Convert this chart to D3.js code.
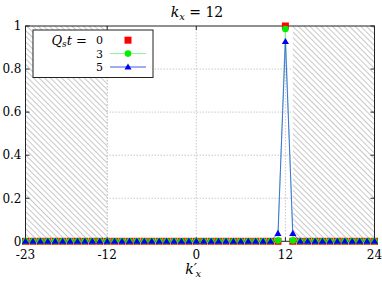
<!DOCTYPE html>
<html><head><meta charset="utf-8">
<script src="https://cdn.jsdelivr.net/npm/d3@7/dist/d3.min.js"></script>
<style>body{margin:0;background:#fff}svg{display:block}</style>
</head><body><svg id="c" width="382" height="283"></svg>
<script>
const kx = d3.range(-23, 25);
const series0 = kx.map(k => k === 12 ? 1 : 0);
const series3 = kx.map(k => k === 12 ? 0.986 : (k === 11 || k === 13) ? 0.004 : 0);
const series5 = kx.map(k => k === 12 ? 0.928 : (k === 11 || k === 13) ? 0.037 : 0);
const xTicks = [-23, -12, 0, 12, 24];
const yTicks = [0, 0.2, 0.4, 0.6, 0.8, 1];
const hatchRanges = [[-23, -12], [13, 24]];
const legendLabels = ["0", "3", "5"];

const FF = "DejaVu Serif";
const svg = d3.select("#c");
const L = 25.5, R = 374.5, T = 26, B = 241.3;
const x = d3.scaleLinear().domain([-23, 24]).range([L, R]);
const y = d3.scaleLinear().domain([0, 1]).range([B, T]);

const defs = svg.append("defs");
const pat = defs.append("pattern").attr("id","hatch").attr("patternUnits","userSpaceOnUse")
  .attr("width",4).attr("height",4).attr("patternTransform","rotate(-45)");
pat.append("line").attr("x1",0).attr("y1",-2).attr("x2",0).attr("y2",6).attr("stroke","#999").attr("stroke-width",1.1);

const grid = svg.append("g").attr("stroke","#bbb").attr("stroke-width",0.8).attr("stroke-dasharray","1.5,1.5");
[0.2,0.4,0.6,0.8].forEach(v => grid.append("line").attr("x1",L).attr("x2",R).attr("y1",y(v)).attr("y2",y(v)));
[-12,0,12].forEach(v => grid.append("line").attr("x1",x(v)).attr("x2",x(v)).attr("y1",T).attr("y2",B));

hatchRanges.forEach(([a,b]) => {
  svg.append("rect").attr("x",x(a)).attr("y",T).attr("width",x(b)-x(a)).attr("height",B-T).attr("fill","#fff");
  svg.append("rect").attr("x",x(a)).attr("y",T).attr("width",x(b)-x(a)).attr("height",B-T).attr("fill","url(#hatch)");
});
svg.append("line").attr("x1",x(-12)).attr("x2",x(-12)).attr("y1",T).attr("y2",B).attr("stroke","#bbb").attr("stroke-width",0.8).attr("stroke-dasharray","1.5,1.5");

svg.append("rect").attr("x",L).attr("y",T).attr("width",R-L).attr("height",B-T).attr("fill","none").attr("stroke","#222").attr("stroke-width",1);

const tk = svg.append("g").attr("stroke","#222").attr("stroke-width",1);
yTicks.forEach(v => {
  tk.append("line").attr("x1",L).attr("x2",L+4).attr("y1",y(v)).attr("y2",y(v));
  tk.append("line").attr("x1",R).attr("x2",R-4).attr("y1",y(v)).attr("y2",y(v));
});
xTicks.forEach(v => {
  tk.append("line").attr("x1",x(v)).attr("x2",x(v)).attr("y1",T).attr("y2",T+4);
  tk.append("line").attr("x1",x(v)).attr("x2",x(v)).attr("y1",B).attr("y2",B-4);
});

svg.append("g").selectAll("text").data(yTicks).join("text").style("font-family",FF)
  .attr("x",L-4).attr("y",d=>y(d)+4.3).attr("text-anchor","end").attr("font-size",12)
  .text(d=>d===0||d===1?String(d):d.toFixed(1));
svg.append("g").selectAll("text").data(xTicks).join("text").style("font-family",FF)
  .attr("x",d=>x(d)).attr("y",259).attr("text-anchor","middle").attr("font-size",12)
  .text(d=>String(d));

const line = d3.line().x((d,i)=>x(kx[i])).y(d=>y(d));
svg.append("path").datum(series3).attr("d",line).attr("fill","none").attr("stroke","#90f090").attr("stroke-width",1);
svg.append("path").datum(series5).attr("d",line).attr("fill","none").attr("stroke","#3a5cf0").attr("stroke-width",0.9);

const sq = 7;
svg.append("g").selectAll("rect").data(series0).join("rect")
  .attr("x",(d,i)=>x(kx[i])-sq/2).attr("y",d=>y(d)-sq/2).attr("width",sq).attr("height",sq).attr("fill","#ff0000");
svg.append("g").selectAll("circle").data(series3).join("circle")
  .attr("cx",(d,i)=>x(kx[i])).attr("cy",d=>y(d)).attr("r",3.3).attr("fill","#00ee00");
const tri = d3.symbol().type(d3.symbolTriangle).size(22);
svg.append("g").selectAll("path").data(series5).join("path")
  .attr("transform",(d,i)=>`translate(${x(kx[i])},${y(d)+0.5})`).attr("d",tri).attr("fill","#0000ee");

const lg = svg.append("g");
lg.append("rect").attr("x",33).attr("y",30).attr("width",120).attr("height",47.5).attr("fill","#fff").attr("stroke","#222").attr("stroke-width",1);
const rows = [40.2, 53.6, 67];
const lt = lg.append("text").attr("x",87).attr("y",rows[0]+4.5).attr("text-anchor","end").attr("font-size",13).style("font-family",FF);
lt.append("tspan").attr("font-style","italic").text("Q");
lt.append("tspan").attr("font-style","italic").attr("font-size",9).attr("dy",2.5).text("s");
lt.append("tspan").attr("font-style","italic").attr("dy",-2.5).text("t");
lt.append("tspan").text(" =");
legendLabels.forEach((t,i)=>lg.append("text").style("font-family",FF).attr("x",103).attr("y",rows[i]+4.2).attr("text-anchor","end").attr("font-size",11).text(t));
lg.append("rect").attr("x",128-sq/2).attr("y",rows[0]-sq/2).attr("width",sq).attr("height",sq).attr("fill","#ff0000");
lg.append("line").attr("x1",110).attr("x2",146).attr("y1",rows[1]).attr("y2",rows[1]).attr("stroke","#90f090");
lg.append("circle").attr("cx",128).attr("cy",rows[1]).attr("r",3.3).attr("fill","#00ee00");
lg.append("line").attr("x1",110).attr("x2",146).attr("y1",rows[2]).attr("y2",rows[2]).attr("stroke","#3a5cf0");
lg.append("path").attr("transform",`translate(128,${rows[2]+0.5})`).attr("d",tri).attr("fill","#0000ee");

const tt = svg.append("text").style("font-family",FF).attr("x",197).attr("y",17).attr("text-anchor","middle").attr("font-size",14);
tt.append("tspan").attr("font-style","italic").text("k");
tt.append("tspan").attr("font-style","italic").attr("font-size",10).attr("dy",3).text("x");
tt.append("tspan").attr("dy",-3).text(" = 12");

svg.append("text").style("font-family",FF).attr("x",197).attr("y",274).attr("text-anchor","end").attr("font-size",14).attr("font-style","italic").text("k′");
svg.append("text").style("font-family",FF).attr("x",195.5).attr("y",277).attr("text-anchor","start").attr("font-size",10).attr("font-style","italic").text("x");
</script></body></html>
